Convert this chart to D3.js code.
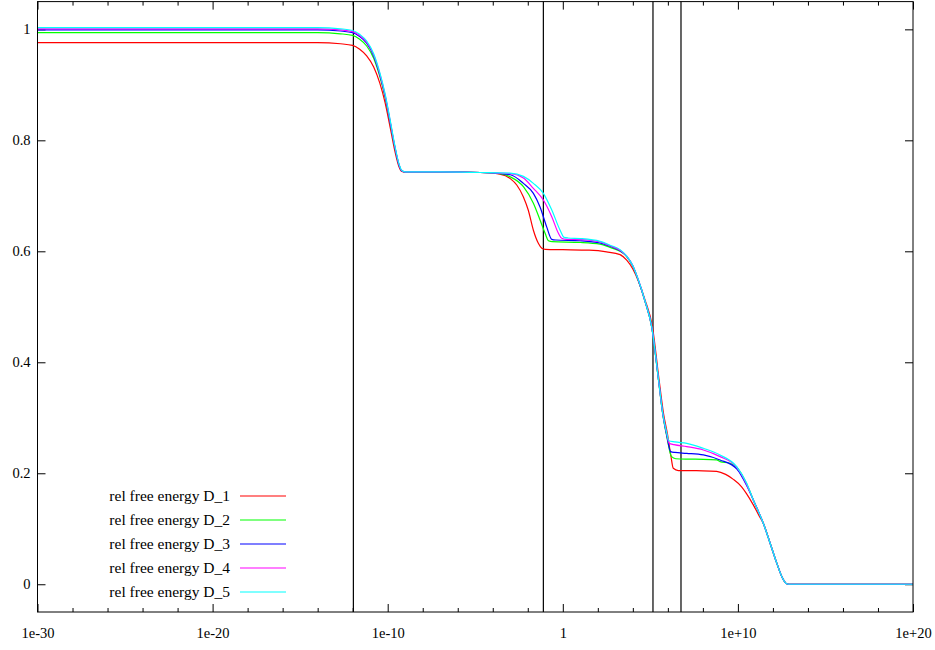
<!DOCTYPE html>
<html>
<head>
<meta charset="utf-8">
<script src="https://cdn.jsdelivr.net/npm/d3@7"></script>
<style>
  body { margin: 0; background: #ffffff; }
  svg text { font-family: "Liberation Serif", "Times New Roman", Times, "DejaVu Serif", serif; fill: #000; }
</style>
</head>
<body>
<svg id="chart" width="935" height="650"></svg>
<script>
// Relative free energy versus scale (log10 of x), five data sets D_1 … D_5.

const seriesNames = ["rel free energy D_1", "rel free energy D_2", "rel free energy D_3",
                     "rel free energy D_4", "rel free energy D_5"];

// D_1
const d1Exp = [-30, -14, -12.7, -12.0, -11.6, -11.2, -10.8, -10.45, -10.15, -9.85, -9.6, -9.35, -9.2, -9.0,
               -7, -4.7, -3.6, -3.0, -2.63, -2.25, -1.97, -1.68, -1.39, -1.2, -1.0, 0, 1.5, 2.5,
               3.27, 3.65, 4.0, 4.32, 4.7, 5.12, 5.5, 5.75, 5.98, 6.17, 6.31, 6.6, 8.0, 8.79,
               9.3, 9.74, 10.2, 10.5, 10.88, 11.2, 11.45, 11.84, 12.22, 12.51, 12.79, 12.9, 20];
const d1Val = [0.976, 0.976, 0.974, 0.971, 0.964, 0.952, 0.932, 0.903, 0.868, 0.822, 0.782, 0.752, 0.744, 0.743,
               0.743, 0.742, 0.739, 0.731, 0.7195, 0.698, 0.674, 0.638, 0.614, 0.6055, 0.6036, 0.603, 0.602, 0.599,
               0.594, 0.584, 0.568, 0.546, 0.512, 0.464, 0.368, 0.308, 0.270, 0.232, 0.209, 0.2048, 0.2045, 0.2035,
               0.198, 0.189, 0.176, 0.163, 0.143, 0.124, 0.110, 0.074, 0.038, 0.0137, 0.0008, 0, 0];

// D_2
const d2Exp = [-30, -14, -12.7, -12.0, -11.6, -11.2, -10.8, -10.45, -10.15, -9.85, -9.6, -9.35, -9.2, -9.0,
               -7, -4.7, -3.6, -3.01, -2.25, -1.68, -1.30, -1.01, -0.82, -0.6, 1.0, 2.13, 2.7,
               3.27, 3.65, 4.0, 4.32, 4.7, 5.08, 5.47, 5.71, 5.94, 6.21, 6.45, 7.08, 8.03, 8.79,
               8.98, 9.55, 9.93, 10.5, 10.88, 11.2, 11.45, 11.84, 12.22, 12.51, 12.79, 12.9, 20];
const d2Val = [0.994, 0.994, 0.992, 0.989, 0.982, 0.970, 0.948, 0.915, 0.878, 0.830, 0.788, 0.755, 0.745, 0.743,
               0.743, 0.742, 0.740, 0.7344, 0.7164, 0.6865, 0.6564, 0.6324, 0.619, 0.6173, 0.616, 0.613, 0.607,
               0.600, 0.5905, 0.573, 0.547, 0.509, 0.463, 0.367, 0.306, 0.266, 0.2299, 0.2262, 0.2255, 0.2252, 0.2240,
               0.2209, 0.218, 0.211, 0.181, 0.152, 0.129, 0.110, 0.074, 0.038, 0.0137, 0.0008, 0, 0];

// D_3
const d3Exp = [-30, -14, -12.7, -12.0, -11.6, -11.2, -10.8, -10.45, -10.15, -9.85, -9.6, -9.35, -9.2, -9.0,
               -7, -4.7, -3.0, -2.25, -1.68, -1.30, -0.92, -0.63, -0.4, 1.0, 2.13, 2.7,
               3.27, 3.65, 4.0, 4.32, 4.7, 5.08, 5.47, 5.71, 5.94, 6.16, 6.4, 7.08, 8.03,
               8.98, 9.93, 10.5, 10.88, 11.2, 11.45, 11.84, 12.22, 12.51, 12.79, 12.9, 20];
const d3Val = [0.999, 0.999, 0.997, 0.994, 0.987, 0.975, 0.952, 0.918, 0.880, 0.831, 0.789, 0.755, 0.745, 0.743,
               0.743, 0.742, 0.738, 0.7225, 0.7045, 0.680, 0.644, 0.6216, 0.6204, 0.619, 0.615, 0.609,
               0.601, 0.591, 0.5735, 0.5475, 0.5095, 0.4635, 0.3675, 0.307, 0.268, 0.239, 0.2375, 0.236, 0.233,
               0.224, 0.208, 0.178, 0.152, 0.129, 0.110, 0.074, 0.038, 0.0137, 0.0008, 0, 0];

// D_4
const d4Exp = [-30, -14, -12.7, -12.0, -11.6, -11.2, -10.8, -10.45, -10.15, -9.85, -9.6, -9.35, -9.2, -9.0,
               -7, -4.7, -3.0, -2.25, -1.68, -1.11, -0.63, -0.25, -0.06, 0.2, 1.0, 2.13, 2.7,
               3.27, 3.65, 4.0, 4.32, 4.7, 5.08, 5.47, 5.71, 5.94, 6.07, 6.35, 7.08, 8.03,
               8.98, 9.93, 10.5, 10.88, 11.2, 11.45, 11.84, 12.22, 12.51, 12.79, 12.9, 20];
const d4Val = [1.001, 1.001, 0.999, 0.996, 0.989, 0.977, 0.954, 0.920, 0.882, 0.833, 0.790, 0.756, 0.745, 0.743,
               0.743, 0.742, 0.740, 0.732, 0.7135, 0.6924, 0.6623, 0.6324, 0.6234, 0.6216, 0.621, 0.617, 0.610,
               0.602, 0.5912, 0.5738, 0.5478, 0.5098, 0.4638, 0.3678, 0.3078, 0.271, 0.254, 0.2515, 0.248, 0.242,
               0.230, 0.211, 0.180, 0.152, 0.129, 0.110, 0.074, 0.038, 0.0137, 0.0008, 0, 0];

// D_5
const d5Exp = [-30, -14, -12.7, -12.0, -11.6, -11.2, -10.8, -10.45, -10.15, -9.85, -9.6, -9.35, -9.2, -9.0,
               -7, -4.7, -3.0, -2.25, -1.68, -1.11, -0.63, -0.16, 0.07, 0.3, 1.0, 2.13, 2.7,
               3.27, 3.65, 4.0, 4.32, 4.7, 5.08, 5.47, 5.71, 5.94, 6.05, 6.4, 7.08, 8.03,
               8.98, 9.93, 10.5, 10.88, 11.2, 11.45, 11.84, 12.22, 12.51, 12.79, 12.9, 20];
const d5Val = [1.003, 1.003, 1.001, 0.998, 0.991, 0.979, 0.956, 0.922, 0.884, 0.835, 0.792, 0.757, 0.746, 0.743,
               0.743, 0.742, 0.741, 0.735, 0.7225, 0.7045, 0.6744, 0.6384, 0.6252, 0.624, 0.623, 0.618, 0.611,
               0.603, 0.5915, 0.574, 0.548, 0.510, 0.464, 0.368, 0.308, 0.272, 0.2587, 0.2565, 0.254, 0.245,
               0.233, 0.212, 0.182, 0.152, 0.129, 0.110, 0.074, 0.038, 0.0137, 0.0008, 0, 0];

// Vertical reference lines (log10 of x)
const markerExp = [-11.96, -1.11, 5.15, 6.75];

// Axis ticks
const xMajorExp = [-30, -20, -10, 0, 10, 20];
const xMinorExp = [-28, -26, -24, -22, -18, -16, -14, -12, -8, -6, -4, -2, 2, 4, 6, 8, 12, 14, 16, 18];
const yTickValues = [0, 0.2, 0.4, 0.6, 0.8, 1];

const seriesExp = [d1Exp, d2Exp, d3Exp, d4Exp, d5Exp];
const seriesVal = [d1Val, d2Val, d3Val, d4Val, d5Val];
const seriesColors = ["#ff0000", "#00ff00", "#0000ff", "#ff00ff", "#00ffff"];

const svg = d3.select("#chart");
const plotLeft = 37.5, plotRight = 913, plotTop = 1.6, plotBottom = 612;
const serif = "'Liberation Serif', 'Times New Roman', Times, serif";

const x = d3.scaleLog().domain([1e-30, 1e20]).range([plotLeft, plotRight]);
const y = d3.scaleLinear().domain([-0.05, 1.05]).range([plotBottom, plotTop]);

function expLabel(v) {
  const e = Math.round(Math.log10(v));
  if (e === 0) return "1";
  return "1e" + (e > 0 ? "+" : "") + e;
}

const majorX = xMajorExp.map(e => Math.pow(10, e));
const minorX = xMinorExp.map(e => Math.pow(10, e));

// Bottom axis: major ticks with labels, minor ticks without
svg.append("g").attr("transform", `translate(0,${plotBottom})`)
  .call(d3.axisBottom(x).tickValues(majorX).tickFormat(expLabel).tickSizeInner(-8).tickSizeOuter(0).tickPadding(16));
svg.append("g").attr("transform", `translate(0,${plotBottom})`)
  .call(d3.axisBottom(x).tickValues(minorX).tickFormat("").tickSizeInner(-4).tickSizeOuter(0));

// Top axis mirror
svg.append("g").attr("transform", `translate(0,${plotTop})`)
  .call(d3.axisTop(x).tickValues(majorX).tickFormat("").tickSizeInner(-8).tickSizeOuter(0));
svg.append("g").attr("transform", `translate(0,${plotTop})`)
  .call(d3.axisTop(x).tickValues(minorX).tickFormat("").tickSizeInner(-4).tickSizeOuter(0));

// Left axis with labels, right mirror
svg.append("g").attr("transform", `translate(${plotLeft},0)`)
  .call(d3.axisLeft(y).tickValues(yTickValues).tickFormat(d3.format("~g")).tickSizeInner(-8).tickSizeOuter(0).tickPadding(7));
svg.append("g").attr("transform", `translate(${plotRight},0)`)
  .call(d3.axisRight(y).tickValues(yTickValues).tickFormat("").tickSizeInner(-8).tickSizeOuter(0));

svg.selectAll(".domain").remove();
svg.selectAll(".tick line").attr("stroke", "#000").attr("stroke-width", 1);
svg.selectAll("g").attr("font-family", serif);
svg.selectAll(".tick text").attr("font-family", serif).attr("font-size", 14.5).attr("fill", "#000");

// Vertical reference lines
svg.append("g").selectAll("line").data(markerExp).join("line")
  .attr("x1", d => x(Math.pow(10, d))).attr("x2", d => x(Math.pow(10, d)))
  .attr("y1", y(-0.05)).attr("y2", y(1.05))
  .attr("stroke", "#000").attr("stroke-width", 1.2);

// Curves
const line = d3.line()
  .x(d => x(Math.pow(10, d[0])))
  .y(d => y(d[1]))
  .curve(d3.curveMonotoneX);

const curves = svg.append("g");
seriesExp.forEach((ex, i) => {
  const pts = ex.map((e, k) => [e, seriesVal[i][k]]);
  curves.append("path")
    .datum(pts)
    .attr("fill", "none")
    .attr("stroke", seriesColors[i])
    .attr("stroke-width", 1.2)
    .attr("d", line);
});

// Legend
const legend = svg.append("g").attr("font-family", serif).attr("font-size", 15.5);
seriesNames.forEach((name, i) => {
  const ly = 496 + i * 24;
  legend.append("text")
    .attr("x", 230).attr("y", ly).attr("dy", "0.33em")
    .attr("text-anchor", "end")
    .text(name);
  legend.append("line")
    .attr("x1", 240).attr("x2", 286).attr("y1", ly).attr("y2", ly)
    .attr("stroke", seriesColors[i]).attr("stroke-width", 1.2);
});

// Plot frame
svg.append("rect")
  .attr("x", plotLeft).attr("y", plotTop)
  .attr("width", plotRight - plotLeft).attr("height", plotBottom - plotTop)
  .attr("fill", "none").attr("stroke", "#000").attr("stroke-width", 1);
</script>
</body>
</html>
